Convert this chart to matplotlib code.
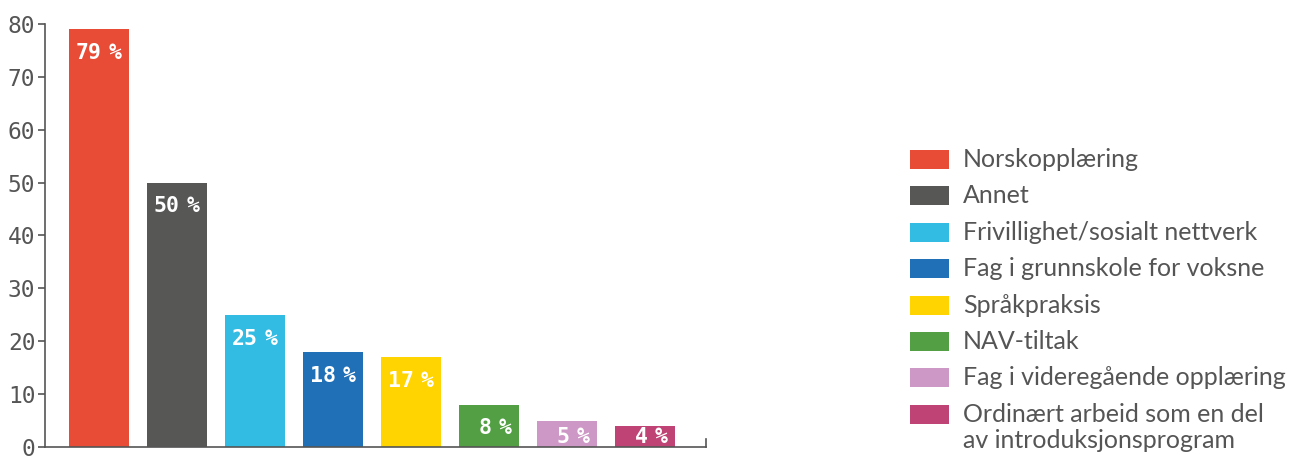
import matplotlib.pyplot as plt
from matplotlib.patches import Rectangle

# data
categories = ['Norskopplæring', 'Annet', 'Frivillighet/sosialt nettverk',
              'Fag i grunnskole for voksne', 'Språkpraksis', 'NAV-tiltak',
              'Fag i videregående opplæring',
              'Ordinært arbeid som en del\nav introduksjonsprogram']
values = [79, 50, 25, 18, 17, 8, 5, 4]
colors = ['#E84C37', '#575756', '#32BBE3', '#1F70B6', '#FFD400', '#52A043',
          '#CE98C6', '#C04375']
yticks = [0, 10, 20, 30, 40, 50, 60, 70, 80]

grey = '#555555'
W, H = 1300, 458

fig = plt.figure(figsize=(13, 4.58), dpi=100)
ax = fig.add_axes([45 / W, 11 / H, 661 / W, 423 / H])

x = list(range(len(values)))
ax.bar(x, values, width=0.77, color=colors, zorder=2)

# value labels: digits and a slightly separated percent sign
lab_kw = dict(textcoords='offset points', va='center', color='white',
              fontsize=15.5, fontweight='bold', family='DejaVu Sans Mono')
for xi, v in zip(x, values):
    y = max(v - 4.5, 1.9)
    ax.annotate(f'{v}', xy=(xi, y), xytext=(2, 0), ha='right', **lab_kw)
    ax.annotate('%', xy=(xi, y), xytext=(7, 0), ha='left', **lab_kw)

ax.set_xlim(-0.69, 7.78)
ax.set_ylim(0, 80)
ax.set_yticks(yticks)
ax.set_xticks([])
ax.tick_params(axis='y', length=5, width=1.2, color=grey, labelcolor=grey,
               labelsize=16.5, pad=2)
for lbl in ax.get_yticklabels():
    lbl.set_family('DejaVu Sans Mono')

for s in ['top', 'right']:
    ax.spines[s].set_visible(False)
for s in ['left', 'bottom']:
    ax.spines[s].set_color(grey)
    ax.spines[s].set_linewidth(1.2)
# small end tick on the x axis
ax.plot([1, 1], [0, 0.02], transform=ax.transAxes, color=grey, lw=1.2,
        clip_on=False)

# legend, drawn by hand so the two-line entry lines up with its first line
for i, (lab, c) in enumerate(zip(categories, colors)):
    yc = 159.5 + 36.4 * i
    fig.patches.append(Rectangle((910 / W, 1 - (yc + 9.5) / H), 39 / W, 19 / H,
                                 transform=fig.transFigure, facecolor=c,
                                 edgecolor='none'))
    for j, line in enumerate(lab.split('\n')):
        fig.text(963 / W, 1 - (yc + 7.5 + 26.5 * j) / H, line, ha='left',
                 va='baseline', family='Lato', fontsize=18, color=grey)

fig.savefig('out.png', dpi=100)
